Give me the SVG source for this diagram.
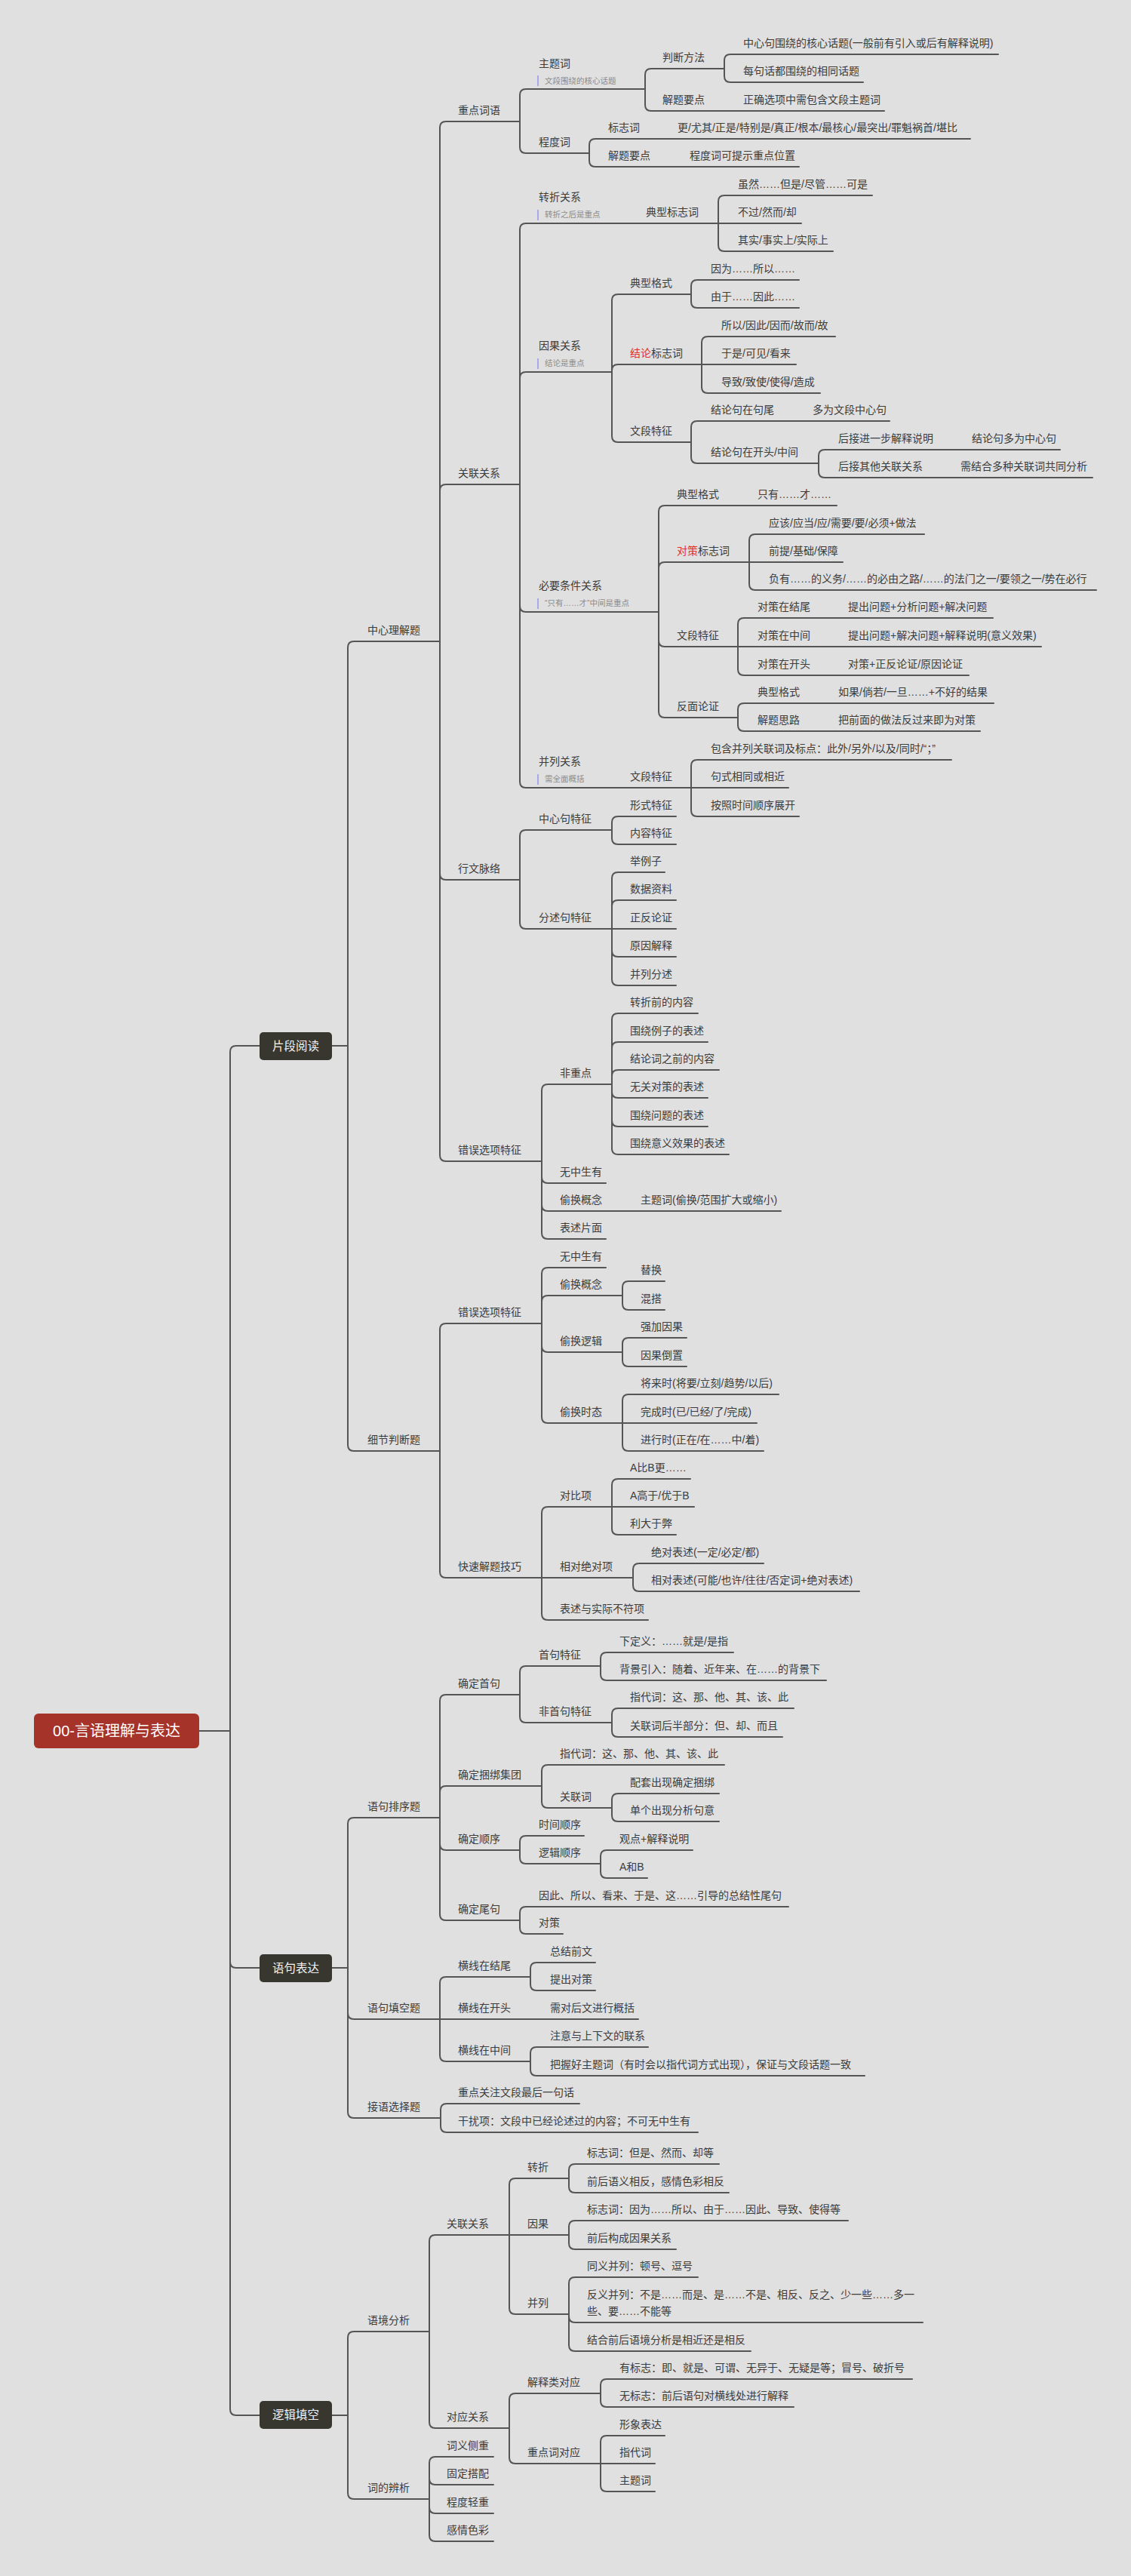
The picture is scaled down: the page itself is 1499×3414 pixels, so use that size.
<svg xmlns="http://www.w3.org/2000/svg" width="1499" height="3414" viewBox="0 0 1499 3414">
<style>
.bg{fill:#e0e0e0}
.c path{fill:none;stroke:#555;stroke-width:2;stroke-linecap:round}
text{font-family:"Liberation Sans","Noto Sans CJK SC",sans-serif}
.t{font-size:14px;fill:#3c3c3c}
.s{font-size:10.5px;fill:#8c8c8c}
.bar{stroke:#9a9aee;stroke-width:1.6}
.red{fill:#e3321f}
.box{fill:#37362f}
.bt{font-size:15.5px;fill:#f2f2f2;text-anchor:middle}
.root{fill:#a5332a}
.rt{font-size:20px;fill:#ffffff;text-anchor:middle}
</style>
<rect class="bg" x="0" y="0" width="1499" height="3414"/>
<g class="c" id="connectors">
<path d="M264 2294 H305"/>
<path d="M305 2294 V1394 Q305 1386 313 1386 H344"/>
<path d="M305 2294 V2600 Q305 2608 313 2608 H344"/>
<path d="M305 2294 V3193 Q305 3201 313 3201 H344"/>
<path d="M440 1386 H461"/>
<path d="M461 1386 V858 Q461 850 469 850 H583"/>
<path d="M461 1386 V1915 Q461 1923 469 1923 H583"/>
<path d="M583 850 V169 Q583 161 591 161 H689"/>
<path d="M583 850 V650 Q583 642 591 642 H689"/>
<path d="M583 850 V1158 Q583 1166 591 1166 H689"/>
<path d="M583 850 V1531 Q583 1539 591 1539 H718"/>
<path d="M689 161 V126 Q689 118 697 118 H855"/>
<path d="M689 161 V195 Q689 203 697 203 H781"/>
<path d="M855 118 V99 Q855 91 863 91 H960"/>
<path d="M855 118 V139 Q855 147 863 147 H1172"/>
<path d="M960 91 V80 Q960 72 968 72 H1323"/>
<path d="M960 91 V101 Q960 109 968 109 H1144"/>
<path d="M781 203 V192 Q781 184 789 184 H1286"/>
<path d="M781 203 V213 Q781 221 789 221 H1059"/>
<path d="M689 642 V304 Q689 296 697 296 H952"/>
<path d="M689 642 V501 Q689 493 697 493 H811"/>
<path d="M689 642 V803 Q689 811 697 811 H873"/>
<path d="M689 642 V1036 Q689 1044 697 1044 H916"/>
<path d="M952 296 V267 Q952 259 960 259 H1156"/>
<path d="M952 296 H1062"/>
<path d="M952 296 V325 Q952 333 960 333 H1104"/>
<path d="M811 493 V398 Q811 390 819 390 H916"/>
<path d="M811 493 V491 Q811 483 819 483 H930"/>
<path d="M811 493 V578 Q811 586 819 586 H916"/>
<path d="M916 390 V379 Q916 371 924 371 H1059"/>
<path d="M916 390 V400 Q916 408 924 408 H1059"/>
<path d="M930 483 V454 Q930 446 938 446 H1107"/>
<path d="M930 483 H1055"/>
<path d="M930 483 V513 Q930 521 938 521 H1087"/>
<path d="M916 586 V566 Q916 558 924 558 H1179"/>
<path d="M916 586 V606 Q916 614 924 614 H1085"/>
<path d="M1085 614 V604 Q1085 596 1093 596 H1405"/>
<path d="M1085 614 V625 Q1085 633 1093 633 H1448"/>
<path d="M873 811 V678 Q873 670 881 670 H1109"/>
<path d="M873 811 V753 Q873 745 881 745 H993"/>
<path d="M873 811 V849 Q873 857 881 857 H978"/>
<path d="M873 811 V943 Q873 951 881 951 H978"/>
<path d="M993 745 V716 Q993 708 1001 708 H1225"/>
<path d="M993 745 H1117"/>
<path d="M993 745 V774 Q993 782 1001 782 H1453"/>
<path d="M978 857 V827 Q978 819 986 819 H1316"/>
<path d="M978 857 H1380"/>
<path d="M978 857 V887 Q978 895 986 895 H1284"/>
<path d="M978 951 V940 Q978 932 986 932 H1317"/>
<path d="M978 951 V961 Q978 969 986 969 H1299"/>
<path d="M916 1044 V1015 Q916 1007 924 1007 H1261"/>
<path d="M916 1044 H1045"/>
<path d="M916 1044 V1074 Q916 1082 924 1082 H1059"/>
<path d="M689 1166 V1108 Q689 1100 697 1100 H811"/>
<path d="M689 1166 V1223 Q689 1231 697 1231 H811"/>
<path d="M811 1100 V1090 Q811 1082 819 1082 H896"/>
<path d="M811 1100 V1111 Q811 1119 819 1119 H896"/>
<path d="M811 1231 V1164 Q811 1156 819 1156 H881"/>
<path d="M811 1231 V1201 Q811 1193 819 1193 H896"/>
<path d="M811 1231 H896"/>
<path d="M811 1231 V1260 Q811 1268 819 1268 H896"/>
<path d="M811 1231 V1298 Q811 1306 819 1306 H896"/>
<path d="M718 1539 V1445 Q718 1437 726 1437 H811"/>
<path d="M718 1539 V1560 Q718 1568 726 1568 H803"/>
<path d="M718 1539 V1597 Q718 1605 726 1605 H1035"/>
<path d="M718 1539 V1634 Q718 1642 726 1642 H803"/>
<path d="M811 1437 V1351 Q811 1343 819 1343 H925"/>
<path d="M811 1437 V1389 Q811 1381 819 1381 H938"/>
<path d="M811 1437 V1426 Q811 1418 819 1418 H953"/>
<path d="M811 1437 V1447 Q811 1455 819 1455 H938"/>
<path d="M811 1437 V1485 Q811 1493 819 1493 H938"/>
<path d="M811 1437 V1522 Q811 1530 819 1530 H966"/>
<path d="M583 1923 V1762 Q583 1754 591 1754 H718"/>
<path d="M583 1923 V2083 Q583 2091 591 2091 H718"/>
<path d="M718 1754 V1688 Q718 1680 726 1680 H803"/>
<path d="M718 1754 V1725 Q718 1717 726 1717 H825"/>
<path d="M718 1754 V1784 Q718 1792 726 1792 H825"/>
<path d="M718 1754 V1878 Q718 1886 726 1886 H825"/>
<path d="M825 1717 V1706 Q825 1698 833 1698 H881"/>
<path d="M825 1717 V1728 Q825 1736 833 1736 H881"/>
<path d="M825 1792 V1781 Q825 1773 833 1773 H910"/>
<path d="M825 1792 V1803 Q825 1811 833 1811 H910"/>
<path d="M825 1886 V1856 Q825 1848 833 1848 H1032"/>
<path d="M825 1886 H1003"/>
<path d="M825 1886 V1915 Q825 1923 833 1923 H1012"/>
<path d="M718 2091 V2005 Q718 1997 726 1997 H811"/>
<path d="M718 2091 H839"/>
<path d="M718 2091 V2139 Q718 2147 726 2147 H859"/>
<path d="M811 1997 V1968 Q811 1960 819 1960 H915"/>
<path d="M811 1997 H920"/>
<path d="M811 1997 V2026 Q811 2034 819 2034 H896"/>
<path d="M839 2091 V2080 Q839 2072 847 2072 H1012"/>
<path d="M839 2091 V2101 Q839 2109 847 2109 H1139"/>
<path d="M440 2608 H461"/>
<path d="M461 2608 V2417 Q461 2409 469 2409 H583"/>
<path d="M461 2608 V2668 Q461 2676 469 2676 H583"/>
<path d="M461 2608 V2799 Q461 2807 469 2807 H584"/>
<path d="M583 2409 V2254 Q583 2246 591 2246 H689"/>
<path d="M583 2409 V2375 Q583 2367 591 2367 H718"/>
<path d="M583 2409 V2444 Q583 2452 591 2452 H689"/>
<path d="M583 2409 V2537 Q583 2545 591 2545 H689"/>
<path d="M689 2246 V2216 Q689 2208 697 2208 H796"/>
<path d="M689 2246 V2275 Q689 2283 697 2283 H811"/>
<path d="M796 2208 V2198 Q796 2190 804 2190 H972"/>
<path d="M796 2208 V2219 Q796 2227 804 2227 H1095"/>
<path d="M811 2283 V2272 Q811 2264 819 2264 H1052"/>
<path d="M811 2283 V2294 Q811 2302 819 2302 H1037"/>
<path d="M718 2367 V2347 Q718 2339 726 2339 H960"/>
<path d="M718 2367 V2388 Q718 2396 726 2396 H811"/>
<path d="M811 2396 V2385 Q811 2377 819 2377 H953"/>
<path d="M811 2396 V2406 Q811 2414 819 2414 H953"/>
<path d="M689 2452 V2441 Q689 2433 697 2433 H774"/>
<path d="M689 2452 V2462 Q689 2470 697 2470 H796"/>
<path d="M796 2470 V2460 Q796 2452 804 2452 H918"/>
<path d="M796 2470 V2481 Q796 2489 804 2489 H858"/>
<path d="M689 2545 V2535 Q689 2527 697 2527 H1045"/>
<path d="M689 2545 V2555 Q689 2563 697 2563 H746"/>
<path d="M583 2676 V2628 Q583 2620 591 2620 H703"/>
<path d="M583 2676 H846"/>
<path d="M583 2676 V2724 Q583 2732 591 2732 H703"/>
<path d="M703 2620 V2609 Q703 2601 711 2601 H789"/>
<path d="M703 2620 V2630 Q703 2638 711 2638 H789"/>
<path d="M703 2732 V2721 Q703 2713 711 2713 H859"/>
<path d="M703 2732 V2743 Q703 2751 711 2751 H1146"/>
<path d="M584 2807 V2796 Q584 2788 592 2788 H768"/>
<path d="M584 2807 V2818 Q584 2826 592 2826 H925"/>
<path d="M440 3201 H461"/>
<path d="M461 3201 V3098 Q461 3090 469 3090 H569"/>
<path d="M461 3201 V3304 Q461 3312 469 3312 H569"/>
<path d="M569 3090 V2970 Q569 2962 577 2962 H675"/>
<path d="M569 3090 V3210 Q569 3218 577 3218 H675"/>
<path d="M675 2962 V2895 Q675 2887 683 2887 H754"/>
<path d="M675 2962 H754"/>
<path d="M675 2962 V3059 Q675 3067 683 3067 H754"/>
<path d="M754 2887 V2876 Q754 2868 762 2868 H953"/>
<path d="M754 2887 V2898 Q754 2906 762 2906 H966"/>
<path d="M754 2962 V2951 Q754 2943 762 2943 H1124"/>
<path d="M754 2962 V2973 Q754 2981 762 2981 H896"/>
<path d="M754 3067 V3026 Q754 3018 762 3018 H925"/>
<path d="M754 3067 V3070 Q754 3078 762 3078 H1223"/>
<path d="M754 3067 V3108 Q754 3116 762 3116 H995"/>
<path d="M675 3218 V3180 Q675 3172 683 3172 H796"/>
<path d="M675 3218 V3257 Q675 3265 683 3265 H796"/>
<path d="M796 3172 V3161 Q796 3153 804 3153 H1209"/>
<path d="M796 3172 V3182 Q796 3190 804 3190 H1052"/>
<path d="M796 3265 V3236 Q796 3228 804 3228 H881"/>
<path d="M796 3265 H868"/>
<path d="M796 3265 V3294 Q796 3302 804 3302 H868"/>
<path d="M569 3312 V3264 Q569 3256 577 3256 H654"/>
<path d="M569 3312 V3285 Q569 3293 577 3293 H654"/>
<path d="M569 3312 V3323 Q569 3331 577 3331 H654"/>
<path d="M569 3312 V3360 Q569 3368 577 3368 H654"/>
</g>
<g id="n-root"><rect class="root" x="45" y="2271" width="219" height="46" rx="6"/><text class="rt" x="154.5" y="2301">00-言语理解与表达</text></g>
<g id="n-pdyd"><rect class="box" x="344" y="1368" width="96" height="37" rx="5"/><text class="bt" x="392" y="1392">片段阅读</text></g>
<g id="n-yjbd"><rect class="box" x="344" y="2590" width="96" height="37" rx="5"/><text class="bt" x="392" y="2614">语句表达</text></g>
<g id="n-ljtk"><rect class="box" x="344" y="3182" width="96" height="37" rx="5"/><text class="bt" x="392" y="3206">逻辑填空</text></g>
<g class="t">
<g id="n-zxljt"><text class="t" x="487" y="840">中心理解题</text></g>
<g id="n-zdcy"><text class="t" x="607" y="151">重点词语</text></g>
<g id="n-ztc"><text class="t" x="714" y="89">主题词</text><line class="bar" x1="713" y1="100" x2="713" y2="114"/><text class="s" x="722" y="111">文段围绕的核心话题</text></g>
<g id="n-pdff"><text class="t" x="878" y="81">判断方法</text></g>
<g id="n-pd1"><text class="t" x="985" y="62">中心句围绕的核心话题(一般前有引入或后有解释说明)</text></g>
<g id="n-pd2"><text class="t" x="985" y="99">每句话都围绕的相同话题</text></g>
<g id="n-jtyd1"><text class="t" x="878" y="137">解题要点</text></g>
<g id="n-jtyd1a"><text class="t" x="985" y="137">正确选项中需包含文段主题词</text></g>
<g id="n-cdc"><text class="t" x="714" y="193">程度词</text></g>
<g id="n-bzc"><text class="t" x="806" y="174">标志词</text></g>
<g id="n-bzc-a"><text class="t" x="898" y="174">更/尤其/正是/特别是/真正/根本/最核心/最突出/罪魁祸首/堪比</text></g>
<g id="n-jtyd2"><text class="t" x="806" y="211">解题要点</text></g>
<g id="n-jtyd2a"><text class="t" x="914" y="211">程度词可提示重点位置</text></g>
<g id="n-glgx"><text class="t" x="607" y="632">关联关系</text></g>
<g id="n-zzgx"><text class="t" x="714" y="266">转折关系</text><line class="bar" x1="713" y1="278" x2="713" y2="292"/><text class="s" x="722" y="288">转折之后是重点</text></g>
<g id="n-dxbzc"><text class="t" x="856" y="286">典型标志词</text></g>
<g id="n-zz1"><text class="t" x="978" y="249">虽然……但是/尽管……可是</text></g>
<g id="n-zz2"><text class="t" x="978" y="286">不过/然而/却</text></g>
<g id="n-zz3"><text class="t" x="978" y="323">其实/事实上/实际上</text></g>
<g id="n-yggx"><text class="t" x="714" y="463">因果关系</text><line class="bar" x1="713" y1="475" x2="713" y2="489"/><text class="s" x="722" y="485">结论是重点</text></g>
<g id="n-dxgs1"><text class="t" x="835" y="380">典型格式</text></g>
<g id="n-yg1"><text class="t" x="942" y="361">因为……所以……</text></g>
<g id="n-yg2"><text class="t" x="942" y="398">由于……因此……</text></g>
<g id="n-jlbzc"><text class="t" x="835" y="473"><tspan class="red">结论</tspan>标志词</text></g>
<g id="n-jl1"><text class="t" x="956" y="436">所以/因此/因而/故而/故</text></g>
<g id="n-jl2"><text class="t" x="956" y="473">于是/可见/看来</text></g>
<g id="n-jl3"><text class="t" x="956" y="511">导致/致使/使得/造成</text></g>
<g id="n-wdtz1"><text class="t" x="835" y="576">文段特征</text></g>
<g id="n-jljw"><text class="t" x="942" y="548">结论句在句尾</text></g>
<g id="n-jljw-a"><text class="t" x="1077" y="548">多为文段中心句</text></g>
<g id="n-jlkt"><text class="t" x="942" y="604">结论句在开头/中间</text></g>
<g id="n-hj1"><text class="t" x="1111" y="586">后接进一步解释说明</text></g>
<g id="n-hj1a"><text class="t" x="1288" y="586">结论句多为中心句</text></g>
<g id="n-hj2"><text class="t" x="1111" y="623">后接其他关联关系</text></g>
<g id="n-hj2a"><text class="t" x="1273" y="623">需结合多种关联词共同分析</text></g>
<g id="n-bytj"><text class="t" x="714" y="781">必要条件关系</text><line class="bar" x1="713" y1="793" x2="713" y2="807"/><text class="s" x="722" y="803">“只有……才”中间是重点</text></g>
<g id="n-dxgs2"><text class="t" x="897" y="660">典型格式</text></g>
<g id="n-dxgs2a"><text class="t" x="1004" y="660">只有……才……</text></g>
<g id="n-dcbzc"><text class="t" x="897" y="735"><tspan class="red">对策</tspan>标志词</text></g>
<g id="n-dc1"><text class="t" x="1019" y="698">应该/应当/应/需要/要/必须+做法</text></g>
<g id="n-dc2"><text class="t" x="1019" y="735">前提/基础/保障</text></g>
<g id="n-dc3"><text class="t" x="1019" y="772">负有……的义务/……的必由之路/……的法门之一/要领之一/势在必行</text></g>
<g id="n-wdtz2"><text class="t" x="897" y="847">文段特征</text></g>
<g id="n-dcjw"><text class="t" x="1004" y="809">对策在结尾</text></g>
<g id="n-dcjw-a"><text class="t" x="1124" y="809">提出问题+分析问题+解决问题</text></g>
<g id="n-dczj"><text class="t" x="1004" y="847">对策在中间</text></g>
<g id="n-dczj-a"><text class="t" x="1124" y="847">提出问题+解决问题+解释说明(意义效果)</text></g>
<g id="n-dckt"><text class="t" x="1004" y="885">对策在开头</text></g>
<g id="n-dckt-a"><text class="t" x="1124" y="885">对策+正反论证/原因论证</text></g>
<g id="n-fmlz"><text class="t" x="897" y="941">反面论证</text></g>
<g id="n-dxgs3"><text class="t" x="1004" y="922">典型格式</text></g>
<g id="n-dxgs3a"><text class="t" x="1111" y="922">如果/倘若/一旦……+不好的结果</text></g>
<g id="n-jtsl"><text class="t" x="1004" y="959">解题思路</text></g>
<g id="n-jtsl-a"><text class="t" x="1111" y="959">把前面的做法反过来即为对策</text></g>
<g id="n-blgx"><text class="t" x="714" y="1014">并列关系</text><line class="bar" x1="713" y1="1026" x2="713" y2="1040"/><text class="s" x="722" y="1036">需全面概括</text></g>
<g id="n-wdtz3"><text class="t" x="835" y="1034">文段特征</text></g>
<g id="n-bl1"><text class="t" x="942" y="997">包含并列关联词及标点：此外/另外/以及/同时/“；”</text></g>
<g id="n-bl2"><text class="t" x="942" y="1034">句式相同或相近</text></g>
<g id="n-bl3"><text class="t" x="942" y="1072">按照时间顺序展开</text></g>
<g id="n-xwml"><text class="t" x="607" y="1156">行文脉络</text></g>
<g id="n-zxjtz"><text class="t" x="714" y="1090">中心句特征</text></g>
<g id="n-xstz"><text class="t" x="835" y="1072">形式特征</text></g>
<g id="n-nrtz"><text class="t" x="835" y="1109">内容特征</text></g>
<g id="n-fsjtz"><text class="t" x="714" y="1221">分述句特征</text></g>
<g id="n-fs1"><text class="t" x="835" y="1146">举例子</text></g>
<g id="n-fs2"><text class="t" x="835" y="1183">数据资料</text></g>
<g id="n-fs3"><text class="t" x="835" y="1221">正反论证</text></g>
<g id="n-fs4"><text class="t" x="835" y="1258">原因解释</text></g>
<g id="n-fs5"><text class="t" x="835" y="1296">并列分述</text></g>
<g id="n-cwxx1"><text class="t" x="607" y="1529">错误选项特征</text></g>
<g id="n-fzd"><text class="t" x="742" y="1427">非重点</text></g>
<g id="n-fz1"><text class="t" x="835" y="1333">转折前的内容</text></g>
<g id="n-fz2"><text class="t" x="835" y="1371">围绕例子的表述</text></g>
<g id="n-fz3"><text class="t" x="835" y="1408">结论词之前的内容</text></g>
<g id="n-fz4"><text class="t" x="835" y="1445">无关对策的表述</text></g>
<g id="n-fz5"><text class="t" x="835" y="1483">围绕问题的表述</text></g>
<g id="n-fz6"><text class="t" x="835" y="1520">围绕意义效果的表述</text></g>
<g id="n-wzsy1"><text class="t" x="742" y="1558">无中生有</text></g>
<g id="n-thgn1"><text class="t" x="742" y="1595">偷换概念</text></g>
<g id="n-thgn1a"><text class="t" x="849" y="1595">主题词(偷换/范围扩大或缩小)</text></g>
<g id="n-bspm"><text class="t" x="742" y="1632">表述片面</text></g>
<g id="n-xjpdt"><text class="t" x="487" y="1913">细节判断题</text></g>
<g id="n-cwxx2"><text class="t" x="607" y="1744">错误选项特征</text></g>
<g id="n-wzsy2"><text class="t" x="742" y="1670">无中生有</text></g>
<g id="n-thgn2"><text class="t" x="742" y="1707">偷换概念</text></g>
<g id="n-th"><text class="t" x="849" y="1688">替换</text></g>
<g id="n-hd"><text class="t" x="849" y="1726">混搭</text></g>
<g id="n-thlj"><text class="t" x="742" y="1782">偷换逻辑</text></g>
<g id="n-qjyg"><text class="t" x="849" y="1763">强加因果</text></g>
<g id="n-ygdz"><text class="t" x="849" y="1801">因果倒置</text></g>
<g id="n-thst"><text class="t" x="742" y="1876">偷换时态</text></g>
<g id="n-jls"><text class="t" x="849" y="1838">将来时(将要/立刻/趋势/以后)</text></g>
<g id="n-wcs"><text class="t" x="849" y="1876">完成时(已/已经/了/完成)</text></g>
<g id="n-jxs"><text class="t" x="849" y="1913">进行时(正在/在……中/着)</text></g>
<g id="n-ksjt"><text class="t" x="607" y="2081">快速解题技巧</text></g>
<g id="n-dbx"><text class="t" x="742" y="1987">对比项</text></g>
<g id="n-db1"><text class="t" x="835" y="1950">A比B更……</text></g>
<g id="n-db2"><text class="t" x="835" y="1987">A高于/优于B</text></g>
<g id="n-db3"><text class="t" x="835" y="2024">利大于弊</text></g>
<g id="n-xdjd"><text class="t" x="742" y="2081">相对绝对项</text></g>
<g id="n-jdbs"><text class="t" x="863" y="2062">绝对表述(一定/必定/都)</text></g>
<g id="n-xdbs"><text class="t" x="863" y="2099">相对表述(可能/也许/往往/否定词+绝对表述)</text></g>
<g id="n-bsbf"><text class="t" x="742" y="2137">表述与实际不符项</text></g>
<g id="n-yjpx"><text class="t" x="487" y="2399">语句排序题</text></g>
<g id="n-qdsj"><text class="t" x="607" y="2236">确定首句</text></g>
<g id="n-sjtz"><text class="t" x="714" y="2198">首句特征</text></g>
<g id="n-sj1"><text class="t" x="821" y="2180">下定义：……就是/是指</text></g>
<g id="n-sj2"><text class="t" x="821" y="2217">背景引入：随着、近年来、在……的背景下</text></g>
<g id="n-fsjtz2"><text class="t" x="714" y="2273">非首句特征</text></g>
<g id="n-fsj1"><text class="t" x="835" y="2254">指代词：这、那、他、其、该、此</text></g>
<g id="n-fsj2"><text class="t" x="835" y="2292">关联词后半部分：但、却、而且</text></g>
<g id="n-qdkb"><text class="t" x="607" y="2357">确定捆绑集团</text></g>
<g id="n-kb1"><text class="t" x="742" y="2329">指代词：这、那、他、其、该、此</text></g>
<g id="n-kbglc"><text class="t" x="742" y="2386">关联词</text></g>
<g id="n-kb2"><text class="t" x="835" y="2367">配套出现确定捆绑</text></g>
<g id="n-kb3"><text class="t" x="835" y="2404">单个出现分析句意</text></g>
<g id="n-qdsx"><text class="t" x="607" y="2442">确定顺序</text></g>
<g id="n-sjsx"><text class="t" x="714" y="2423">时间顺序</text></g>
<g id="n-ljsx"><text class="t" x="714" y="2460">逻辑顺序</text></g>
<g id="n-lj1"><text class="t" x="821" y="2442">观点+解释说明</text></g>
<g id="n-lj2"><text class="t" x="821" y="2479">A和B</text></g>
<g id="n-qdwj"><text class="t" x="607" y="2535">确定尾句</text></g>
<g id="n-wj1"><text class="t" x="714" y="2517">因此、所以、看来、于是、这……引导的总结性尾句</text></g>
<g id="n-wj2"><text class="t" x="714" y="2553">对策</text></g>
<g id="n-yjtk"><text class="t" x="487" y="2666">语句填空题</text></g>
<g id="n-hxjw"><text class="t" x="607" y="2610">横线在结尾</text></g>
<g id="n-hx1"><text class="t" x="729" y="2591">总结前文</text></g>
<g id="n-hx2"><text class="t" x="729" y="2628">提出对策</text></g>
<g id="n-hxkt"><text class="t" x="607" y="2666">横线在开头</text></g>
<g id="n-hxkt-a"><text class="t" x="729" y="2666">需对后文进行概括</text></g>
<g id="n-hxzj"><text class="t" x="607" y="2722">横线在中间</text></g>
<g id="n-hx3"><text class="t" x="729" y="2703">注意与上下文的联系</text></g>
<g id="n-hx4"><text class="t" x="729" y="2741">把握好主题词（有时会以指代词方式出现），保证与文段话题一致</text></g>
<g id="n-jyxz"><text class="t" x="487" y="2797">接语选择题</text></g>
<g id="n-jy1"><text class="t" x="607" y="2778">重点关注文段最后一句话</text></g>
<g id="n-jy2"><text class="t" x="607" y="2816">干扰项：文段中已经论述过的内容；不可无中生有</text></g>
<g id="n-yjfx"><text class="t" x="487" y="3080">语境分析</text></g>
<g id="n-glgx2"><text class="t" x="592" y="2952">关联关系</text></g>
<g id="n-zz"><text class="t" x="699" y="2877">转折</text></g>
<g id="n-zza"><text class="t" x="778" y="2858">标志词：但是、然而、却等</text></g>
<g id="n-zzb"><text class="t" x="778" y="2896">前后语义相反，感情色彩相反</text></g>
<g id="n-yg"><text class="t" x="699" y="2952">因果</text></g>
<g id="n-yga"><text class="t" x="778" y="2933">标志词：因为……所以、由于……因此、导致、使得等</text></g>
<g id="n-ygb"><text class="t" x="778" y="2971">前后构成因果关系</text></g>
<g id="n-bl"><text class="t" x="699" y="3057">并列</text></g>
<g id="n-bla"><text class="t" x="778" y="3008">同义并列：顿号、逗号</text></g>
<g id="n-blb"><text class="t" x="778" y="3046">反义并列：不是……而是、是……不是、相反、反之、少一些……多一</text><text class="t" x="778" y="3068">些、要……不能等</text></g>
<g id="n-blc"><text class="t" x="778" y="3106">结合前后语境分析是相近还是相反</text></g>
<g id="n-dygx"><text class="t" x="592" y="3208">对应关系</text></g>
<g id="n-jsldy"><text class="t" x="699" y="3162">解释类对应</text></g>
<g id="n-js1"><text class="t" x="821" y="3143">有标志：即、就是、可谓、无异于、无疑是等；冒号、破折号</text></g>
<g id="n-js2"><text class="t" x="821" y="3180">无标志：前后语句对横线处进行解释</text></g>
<g id="n-zdcdy"><text class="t" x="699" y="3255">重点词对应</text></g>
<g id="n-zd1"><text class="t" x="821" y="3218">形象表达</text></g>
<g id="n-zd2"><text class="t" x="821" y="3255">指代词</text></g>
<g id="n-zd3"><text class="t" x="821" y="3292">主题词</text></g>
<g id="n-cdbx"><text class="t" x="487" y="3302">词的辨析</text></g>
<g id="n-bx1"><text class="t" x="592" y="3246">词义侧重</text></g>
<g id="n-bx2"><text class="t" x="592" y="3283">固定搭配</text></g>
<g id="n-bx3"><text class="t" x="592" y="3321">程度轻重</text></g>
<g id="n-bx4"><text class="t" x="592" y="3358">感情色彩</text></g>
</g>
</svg>
